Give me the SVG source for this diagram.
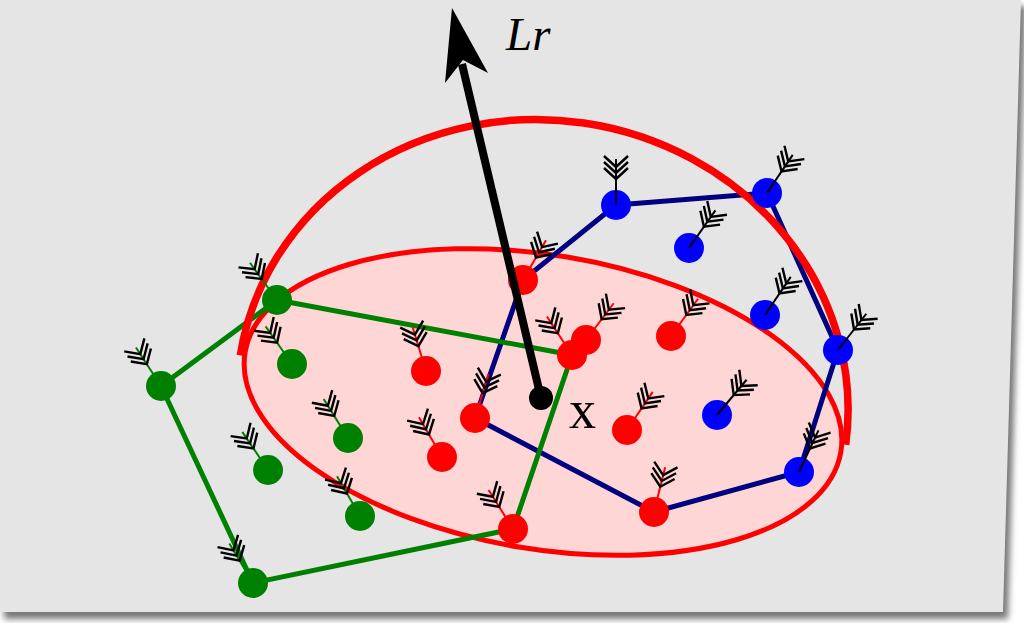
<svg xmlns="http://www.w3.org/2000/svg" xmlns:xlink="http://www.w3.org/1999/xlink" width="1024" height="623" viewBox="0 0 1024 623">
<style>
.dot-r{fill:#ff0000}
.dot-b{fill:#0000ff}
.dot-g{fill:#008000}
.fr{color:#ff0000}
.fb{color:#000000}
.fg{color:#008000}
.ch{fill:none;stroke:#000;stroke-width:2.4;stroke-linecap:butt}
.stem{stroke:currentColor;stroke-width:2}
</style>
<defs>
<filter id="sh" x="-5%" y="-5%" width="110%" height="110%">
<feGaussianBlur stdDeviation="3"/>
</filter>
<g id="fl">
<line class="stem" x1="0" y1="0" x2="0" y2="-46"/>
<path class="ch" d="M-12,-37 L0,-26 L12,-37 M-12,-43 L0,-32 L12,-43 M-12,-49 L0,-38 L12,-49"/>
</g>
</defs>
<rect width="1024" height="623" fill="#ffffff"/>
<polygon points="4,6 1026,6 1008,619 4,619" fill="#777" filter="url(#sh)"/>
<polygon points="0,0 1021,0 1003,612 0,612" fill="#e5e5e5"/>

<ellipse id="disc" cx="543" cy="402" rx="302" ry="147" transform="rotate(9.5 543 402)" fill="#ffd6d6" stroke="#ff0000" stroke-width="5"/>

<g id="connectors" fill="none" stroke-linejoin="round">
<polygon points="523,280 616,205 767,193 838,350 799,472 654,512 475,418" stroke="#000080" stroke-width="5"/>
<polygon points="277,300 572,355 513,529 253,583 161,386" stroke="#008000" stroke-width="5"/>
</g>

<path id="hemisphere" d="M 240.3 355.3 A 306 283 8.4 0 1 845.7 444.7" fill="none" stroke="#ff0000" stroke-width="7.5"/>

<g id="blue-nodes">
<g id="b1"><circle class="dot-b" cx="616" cy="205" r="15"/><use xlink:href="#fl" class="fb" transform="translate(616,205) rotate(0)"/></g>
<g id="b2"><circle class="dot-b" cx="767" cy="193" r="15"/><use xlink:href="#fl" class="fb" transform="translate(767,193) rotate(34)"/></g>
<g id="b3"><circle class="dot-b" cx="689" cy="248" r="15"/><use xlink:href="#fl" class="fb" transform="translate(689,248) rotate(35)"/></g>
<g id="b4"><circle class="dot-b" cx="765" cy="315" r="15"/><use xlink:href="#fl" class="fb" transform="translate(765,315) rotate(34)"/></g>
<g id="b5"><circle class="dot-b" cx="838" cy="350" r="15"/><use xlink:href="#fl" class="fb" transform="translate(838,350) rotate(38)"/></g>
<g id="b6"><circle class="dot-b" cx="717" cy="415" r="15"/><use xlink:href="#fl" class="fb" transform="translate(717,415) rotate(40)"/></g>
<g id="b7"><circle class="dot-b" cx="799" cy="472" r="15"/><use xlink:href="#fl" class="fb" transform="translate(799,472) rotate(25)"/></g>
</g>

<g id="red-nodes">
<g id="r1"><circle class="dot-r" cx="523" cy="280" r="15"/><use xlink:href="#fl" class="fr" transform="translate(523,280) rotate(30)"/></g>
<g id="r3"><circle class="dot-r" cx="572" cy="355" r="15"/><use xlink:href="#fl" class="fr" transform="translate(572,355) rotate(-33)"/></g>
<g id="r2"><circle class="dot-r" cx="586" cy="340" r="15"/><use xlink:href="#fl" class="fr" transform="translate(586,340) rotate(37)"/></g>
<g id="r4"><circle class="dot-r" cx="671" cy="336" r="15"/><use xlink:href="#fl" class="fr" transform="translate(671,336) rotate(36)"/></g>
<g id="r5"><circle class="dot-r" cx="426" cy="371" r="15"/><use xlink:href="#fl" class="fr" transform="translate(426,371) rotate(-17)"/></g>
<g id="r6"><circle class="dot-r" cx="475" cy="418" r="15"/><use xlink:href="#fl" class="fr" transform="translate(475,418) rotate(17)"/></g>
<g id="r7"><circle class="dot-r" cx="442" cy="457" r="15"/><use xlink:href="#fl" class="fr" transform="translate(442,457) rotate(-30)"/></g>
<g id="r8"><circle class="dot-r" cx="627" cy="430" r="15"/><use xlink:href="#fl" class="fr" transform="translate(627,430) rotate(34)"/></g>
<g id="r9"><circle class="dot-r" cx="654" cy="512" r="15"/><use xlink:href="#fl" class="fr" transform="translate(654,512) rotate(14)"/></g>
<g id="r10"><circle class="dot-r" cx="513" cy="529" r="15"/><use xlink:href="#fl" class="fr" transform="translate(513,529) rotate(-32)"/></g>
</g>

<g id="green-nodes">
<g id="g1"><circle class="dot-g" cx="277" cy="300" r="15"/><use xlink:href="#fl" class="fg" transform="translate(277,300) rotate(-36)"/></g>
<g id="g2"><circle class="dot-g" cx="292" cy="364" r="15"/><use xlink:href="#fl" class="fg" transform="translate(292,364) rotate(-35)"/></g>
<g id="g3"><circle class="dot-g" cx="161" cy="386" r="15"/><use xlink:href="#fl" class="fg" transform="translate(161,386) rotate(-33)"/></g>
<g id="g4"><circle class="dot-g" cx="348" cy="438" r="15"/><use xlink:href="#fl" class="fg" transform="translate(348,438) rotate(-32)"/></g>
<g id="g5"><circle class="dot-g" cx="268" cy="470" r="15"/><use xlink:href="#fl" class="fg" transform="translate(268,470) rotate(-34)"/></g>
<g id="g6"><circle class="dot-g" cx="360" cy="516" r="15"/><use xlink:href="#fl" class="fg" transform="translate(360,516) rotate(-30)"/></g>
<g id="g7"><circle class="dot-g" cx="253" cy="583" r="15"/><use xlink:href="#fl" class="fg" transform="translate(253,583) rotate(-31)"/></g>
</g>

<g id="arrow-Lr">
<line x1="541" y1="398" x2="462" y2="64" stroke="#000" stroke-width="8"/>
<polygon points="452,8 488,73 463,60 445,83" fill="#000"/>
<circle cx="541" cy="398" r="12" fill="#000"/>
<text x="506" y="50" font-family="Liberation Serif, serif" font-style="italic" font-size="47" fill="#000">Lr</text>
</g>
<g id="center-x">
<text x="569" y="428" font-family="Liberation Serif, serif" font-size="54" fill="#000">x</text>
</g>
</svg>
